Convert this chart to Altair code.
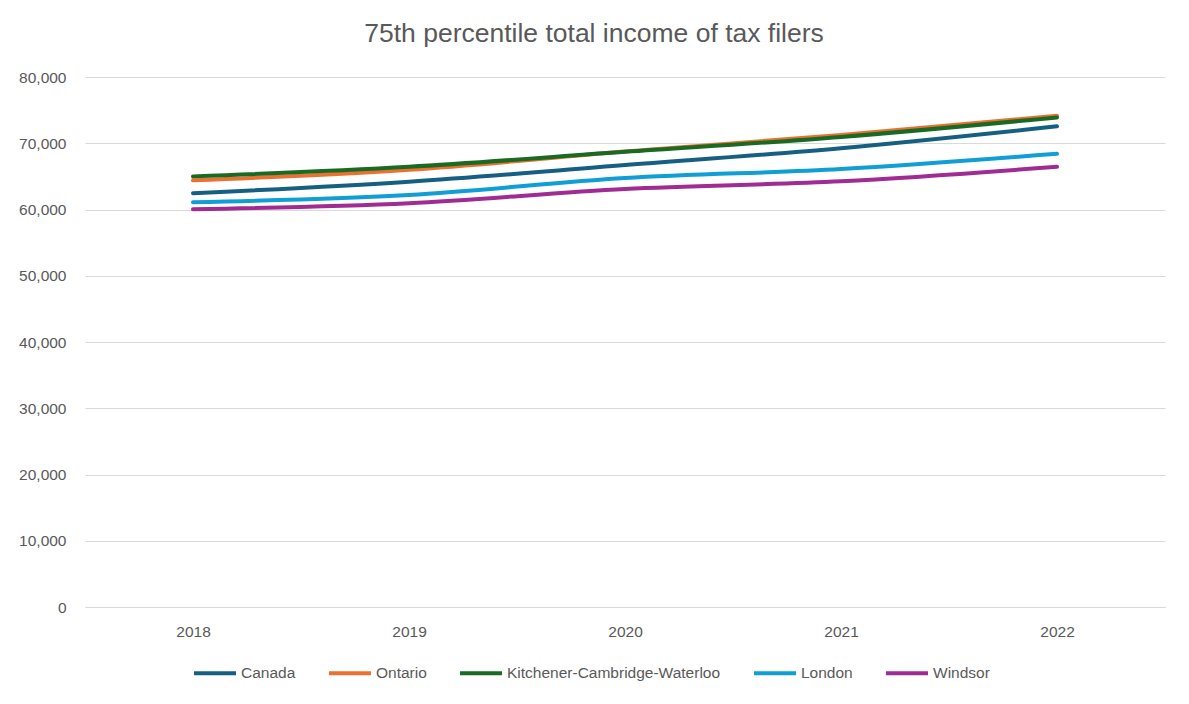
import altair as alt
import pandas as pd

years = ["2018", "2019", "2020", "2021", "2022"]
series_names = ["Canada", "Ontario", "Kitchener-Cambridge-Waterloo", "London", "Windsor"]
canada = [62450, 64200, 66700, 69250, 72550]
ontario = [64400, 66000, 68750, 71250, 74150]
kcw = [65000, 66450, 68700, 70950, 73900]
london = [61100, 62200, 64750, 66100, 68400]
windsor = [60050, 60950, 63100, 64250, 66450]
colors = ["#156082", "#E97132", "#196B24", "#0F9ED5", "#A02B93"]

values = [canada, ontario, kcw, london, windsor]
rows = []
for i, (name, vals) in enumerate(zip(series_names, values)):
    for y, v in zip(years, vals):
        rows.append({"Year": y, "Series": name, "Value": v, "idx": i})
df = pd.DataFrame(rows)

grey = "#595959"
font = "Liberation Sans"

chart = alt.Chart(df).mark_line(
    strokeWidth=4, strokeCap="round", strokeJoin="round", interpolate="monotone"
).encode(
    x=alt.X("Year:N", title=None, scale=alt.Scale(type="point", padding=0.5),
            axis=alt.Axis(labelAngle=0, ticks=False, domainColor="#d9d9d9",
                          labelPadding=17, labelFontSize=15.5, labelColor=grey,
                          labelFont=font, grid=False)),
    y=alt.Y("Value:Q", title=None, scale=alt.Scale(domain=[0, 80000]),
            axis=alt.Axis(values=list(range(0, 80001, 10000)), format=",.0f",
                          ticks=False, domain=False, gridColor="#d9d9d9",
                          labelPadding=19, labelFontSize=15.5, labelColor=grey,
                          labelFont=font)),
    color=alt.Color("Series:N", sort=series_names,
                    scale=alt.Scale(domain=series_names, range=colors),
                    legend=alt.Legend(title=None, orient="none", direction="horizontal",
                                      columns=5, legendX=107, legendY=573,
                                      symbolType="stroke", symbolSize=1764,
                                      symbolStrokeWidth=4, labelOffset=3,
                                      columnPadding=25, labelFontSize=15.5,
                                      labelLimit=400,
                                      labelColor=grey, labelFont=font, padding=0)),
    detail="Series:N",
    order=alt.Order("idx:Q"),
).properties(
    width=1080, height=530,
    title=alt.TitleParams("75th percentile total income of tax filers",
                          fontSize=26.5, font=font, fontWeight="normal",
                          color=grey, anchor="middle", offset=23, dx=-31),
    autosize=alt.AutoSizeParams(type="none"),
    padding={"left": 77, "top": 69, "right": 16, "bottom": 89},
).configure_view(stroke=None)

chart.save("out.html", embed_options={"renderer": "svg", "actions": False})
